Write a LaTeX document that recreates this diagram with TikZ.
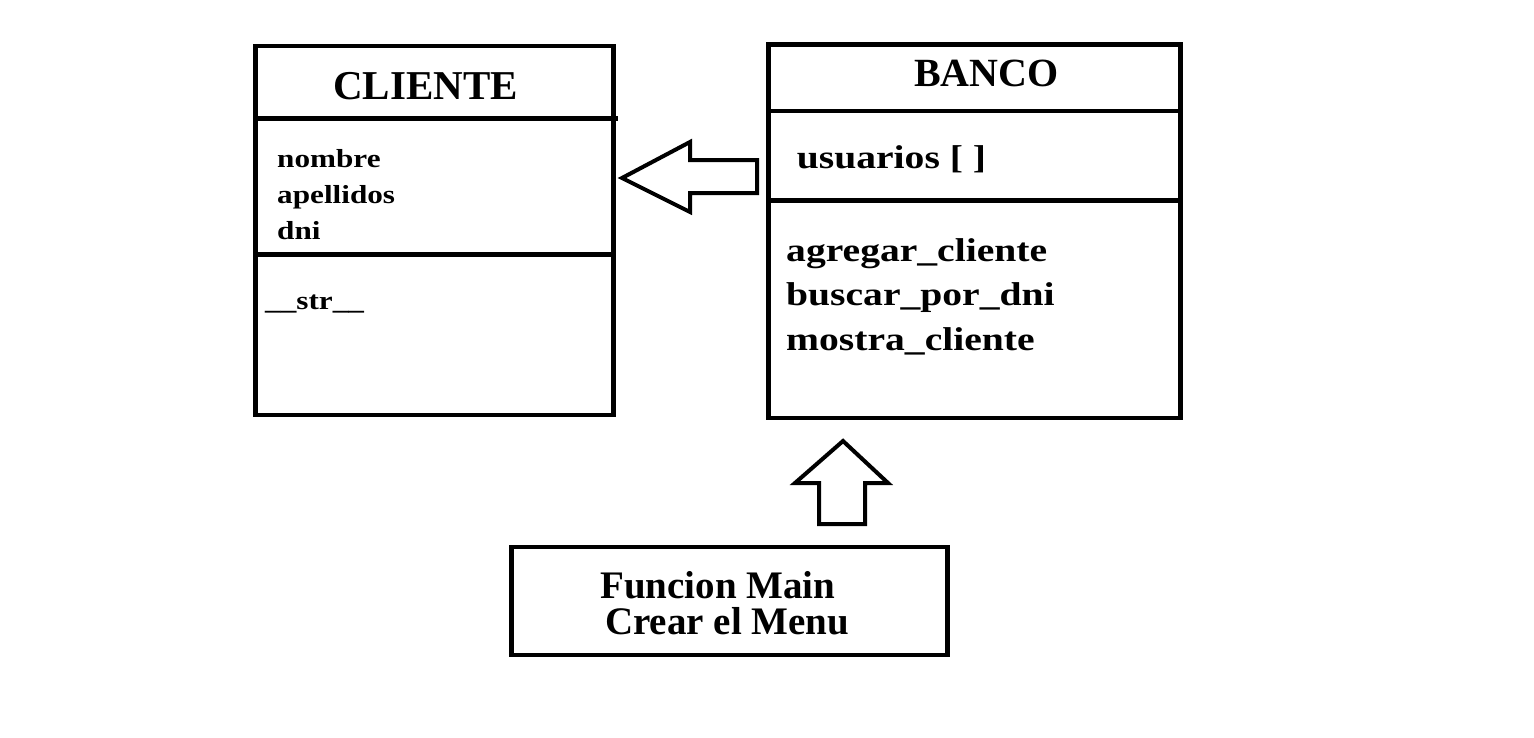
\documentclass[tikz,border=0pt]{standalone}
\usepackage{fontspec}
\setmainfont{Liberation Serif}
\newfontfamily\wideserif[FakeStretch=1.2]{Liberation Serif}
\usetikzlibrary{positioning,calc}

\begin{document}
\begin{tikzpicture}[
  x=1pt, y=-1pt,
  box/.style={draw, line width=4.5pt, inner sep=0pt},
  div/.style={line width=4.5pt},
  txt/.style={anchor=base west, inner sep=0pt},
  title/.style={txt, font=\fontsize{40}{40}\selectfont\bfseries},
  attr/.style={txt, font=\wideserif\fontsize{26}{26}\selectfont\bfseries},
  meth/.style={txt, font=\wideserif\fontsize{33}{33}\selectfont\bfseries},
  blockarr/.style={line width=4pt, line join=miter}
]
\useasboundingbox (0,0) rectangle (1534,737);

% class boxes
\node[box, minimum width=358pt, minimum height=369.2pt] (cliente) at (434.3,230.4) {};
\node[box, minimum width=412.4pt, minimum height=373.5pt] (banco) at (974.5,231) {};
\node[box, minimum width=435.6pt, minimum height=108pt] (main) at (729.5,601) {};

% compartments
\draw[div] ($(cliente.north west)+(0,74.7)$) -- ($(cliente.north east)+(2.5,74.7)$);
\draw[div] ($(cliente.north west)+(0,210.9)$) -- ($(cliente.north east)+(0,210.9)$);
\draw[div] ($(banco.north west)+(0,69.1)$) -- ($(banco.north east)+(0,69.1)$);
\draw[div] ($(banco.north west)+(0,158.5)$) -- ($(banco.north east)+(0,158.5)$);

% CLIENTE
\node[title, font=\fontsize{41}{41}\selectfont\bfseries] (cname) at (333,99.3) {CLIENTE};
\node[attr] (nombre) at (277,167.7) {nombre};
\node[attr] (apell) at (277,203) {apellidos};
\node[attr] (dni) at (277,239) {dni};
\node[attr] (str) at (265,309) {\_\_str\_\_};

% BANCO
\node[title] (bname) at (914,86.7) {BANCO};
\node[meth] (usu) at (796.7,168.3) {usuarios [ ]};
\node[meth] (agregar) at (786,261.7) {agregar\_cliente};
\node[meth] (buscar) at (786,305.7) {buscar\_por\_dni};
\node[meth] (mostra) at (786,350) {mostra\_cliente};

% main
\node[txt, font=\fontsize{39}{39}\selectfont\bfseries] (fmain) at (600,598) {Funcion Main};
\node[txt, font=\fontsize{39}{39}\selectfont\bfseries] (menu) at (605,634) {Crear el Menu};

% block arrows
\draw[blockarr] (757,160) -- (690,160) -- (690,142) -- (622,178)
  -- (690,212) -- (690,193) -- (757,193) -- cycle;
\draw[blockarr] (819,524) -- (819,483) -- (795,483) -- (843,441)
  -- (888,483) -- (865,483) -- (865,524) -- cycle;
\end{tikzpicture}
\end{document}
